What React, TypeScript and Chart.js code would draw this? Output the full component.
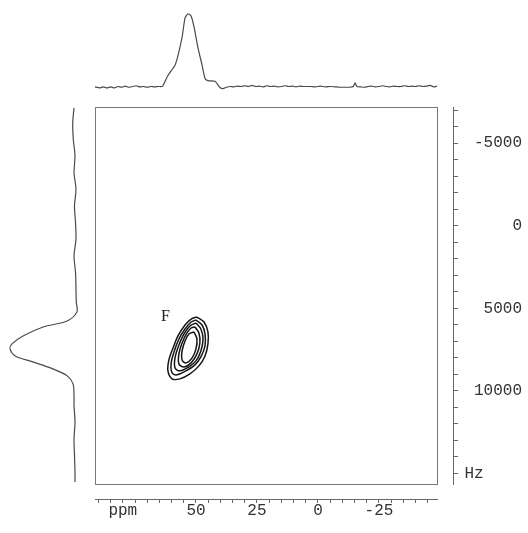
import React, { useEffect, useRef } from 'react';
import { Chart, registerables } from 'chart.js';

Chart.register(...registerables);

// ---------- DATA ----------
// Top projection (F2, ppm) : chemical shift vs intensity (0 = baseline, 100 = peak)
const topPpm = [
  91.4, 89.5, 88, 86.5, 85, 83.5, 82, 80.5, 79, 77.5, 76, 74.5, 73, 71.5, 70, 68.5, 67, 65.5, 64, 63.5,
  61.5, 58.6, 57.4, 55.7, 54.5, 53.3, 52.0, 50.8, 49.2, 47.5, 46.3, 45.1, 42.2, 40.2, 38.9,
  37.5, 36, 34.5, 33, 31.5, 30, 28.5, 27, 25.5, 24, 22.5, 21, 19.5, 18, 16.5, 15, 13.5, 12, 10.5, 9,
  7.5, 6, 4.5, 3, 1, -1, -3, -5, -7, -9, -11, -13, -14.5, -15.2, -16, -17.5, -19, -20.5, -22, -23.5,
  -25, -26.5, -28, -29.5, -31, -32.5, -34, -35.5, -37, -38.5, -40, -41.5, -43, -44.5, -46, -47.5, -48.8,
];
const topIntensity = [
  -0.5, -2, -0.5, -2, -0.5, -2, 0, -1, 0.5, -1, 0, 1, -0.5, 0, -1, 0, -0.5, 0, 0, 1.4,
  15, 29, 42, 67, 93, 99, 96, 81, 53, 29, 11, 8, 7, -1.4, -3,
  -1, 0, -0.5, 0.5, 0, 1, 0, 1.5, 0, 0.5, -0.5, 1, 0, 0.5, -0.5, 0, 1, 0, 0.5, -0.5,
  0.5, 0, 0, 0, -0.5, 0.5, -0.5, 0, -0.5, -1, -1, -1, 0, 5, 0, -0.5, -1, 0, 0.5, -0.5,
  0, 1, 0, -0.5, 0.5, 0, 0, 1, 0, 0.5, 0, 1, 0, 0.5, 1.5, -0.5, 0.5,
];

// Left projection (F1, Hz) : frequency vs intensity
const leftHz = [
  -7137, -6232, -5224, -4215, -3212, -2204, -1196, -193, 815, 1824, 2826, 3835, 4638,
  5224, 5767, 6130, 6673, 7156, 7458, 7881, 8243, 8666, 9089, 9572, 10297,
  10882, 11885, 12893, 13902, 14904, 15508,
];
const leftIntensity = [
  1.5, 3.5, 2.6, 0, 1.5, -1.5, 0.8, -0.8, -1.5, 1.5, -0.8, -1.5, -2,
  -3, 12, 49, 80, 97, 100, 92, 65, 34, 12, 3, 1.5,
  1.5, 0, 1.5, 0.8, 0, 0,
];

// Contour rings of peak F (ppm, Hz), outermost first
const ring1Ppm = [49.6, 46.7, 45.1, 45.1, 46.3, 48.8, 52.5, 56.6, 59.8, 61.5, 61.1, 59.4, 57.4, 54.5, 52.0];
const ring1Hz = [5526, 5828, 6432, 7156, 7881, 8484, 8967, 9270, 9270, 8786, 8122, 7398, 6673, 6009, 5646];
const ring2Ppm = [50.0, 47.5, 46.3, 46.3, 48.0, 50.4, 54.1, 57.8, 59.8, 60.2, 59.0, 57.0, 54.5, 52.0];
const ring2Hz = [5707, 6009, 6552, 7277, 7941, 8424, 8786, 9028, 8907, 8364, 7639, 6854, 6250, 5828];
const ring3Ppm = [50.0, 48.0, 47.1, 48.0, 50.0, 52.9, 56.6, 58.6, 58.6, 57.0, 54.9, 52.5];
const ring3Hz = [5888, 6250, 6854, 7579, 8183, 8545, 8786, 8605, 8001, 7216, 6552, 6069];
const ring4Ppm = [50.4, 48.8, 48.4, 49.6, 52.0, 54.9, 57.0, 57.0, 55.7, 53.7, 52.0];
const ring4Hz = [6130, 6492, 7096, 7760, 8303, 8545, 8364, 7760, 7096, 6492, 6190];
const ring5Ppm = [50.8, 49.6, 50.0, 51.6, 54.1, 55.7, 55.7, 54.5, 52.9];
const ring5Hz = [6432, 6854, 7458, 8001, 8303, 8122, 7579, 6975, 6552];

const peakLabel = 'F';
const peakLabelPpm = 62.5;
const peakLabelHz = 5526;

// Axis ranges, tick positions and tick labels
const ppmMin = -48.8;
const ppmMax = 91.4;
const hzMin = -7190;
const hzMax = 15636;
const ppmTickValues = [90, 85, 80, 75, 70, 65, 60, 55, 50, 45, 40, 35, 30, 25, 20, 15, 10, 5, 0, -5, -10, -15, -20, -25, -30, -35, -40, -45];
const hzTickValues = [-7000, -6000, -5000, -4000, -3000, -2000, -1000, 0, 1000, 2000, 3000, 4000, 5000, 6000, 7000, 8000, 9000, 10000, 11000, 12000, 13000, 14000, 15000];
const ppmTickLabels: Record<string, string> = { '80': 'ppm', '50': '50', '25': '25', '0': '0', '-25': '-25' };
const hzTickLabels: Record<string, string> = { '-5000': '-5000', '0': '0', '5000': '5000', '10000': '10000', '15000': 'Hz    ' };

// ---------- LAYOUT ----------
const W = 528;
const H = 533;
const AREA = { left: 95, right: 437, top: 107, bottom: 484 };
const PAD_RIGHT_GAP = 16;
const PAD_BOTTOM_GAP = 15;
const Y_AXIS_W = 69;
const X_AXIS_H = 30;

function rangeFor(frac0: number, frac100: number) {
  const R = 100 / (frac100 - frac0);
  const min = -frac0 * R;
  return { min, max: min + R };
}
// top projection: value 0 at y=86.5, 100 at y=13
const topRange = rangeFor(
  (AREA.bottom - 86.5) / (AREA.bottom - AREA.top),
  (AREA.bottom - 13) / (AREA.bottom - AREA.top)
);
// left projection (reversed): value 0 at x=75, 100 at x=10
const leftRange = rangeFor(
  1 - (75 - AREA.left) / (AREA.right - AREA.left),
  1 - (10 - AREA.left) / (AREA.right - AREA.left)
);

const LINE = '#4a4a4a';
const MONO = "'Liberation Mono', 'DejaVu Sans Mono', monospace";

function ring(ppm: number[], hz: number[]) {
  const pts = ppm.map((p, i) => ({ x: p, y: hz[i] }));
  pts.push({ x: ppm[0], y: hz[0] });
  return pts;
}

const labelPlugin = {
  id: 'peakLabel',
  afterDatasetsDraw(chart: any) {
    const ctx = chart.ctx;
    const x = chart.scales.x.getPixelForValue(peakLabelPpm);
    const y = chart.scales.y.getPixelForValue(peakLabelHz);
    ctx.save();
    ctx.font = "16px 'Liberation Serif', serif";
    ctx.fillStyle = '#222';
    ctx.textAlign = 'center';
    ctx.textBaseline = 'middle';
    ctx.fillText(peakLabel, x, y);
    ctx.restore();
  },
};

const hiddenFrameAxis = (position: string, size: number, weight = 1) => ({
  type: 'linear',
  position,
  min: 0,
  max: 1,
  weight,
  afterFit: (s: any) => {
    if (position === 'top' || position === 'bottom') s.height = size;
    else s.width = size;
  },
  border: { display: true, color: '#777', width: 1 },
  grid: { display: false, drawTicks: false },
  ticks: { display: false },
});

export default function App() {
  const ref = useRef<HTMLCanvasElement>(null);

  useEffect(() => {
    if (!ref.current) return;
    const contourStyle = {
      showLine: true,
      pointRadius: 0,
      borderColor: '#151515',
      borderWidth: 1.5,
      tension: 0.35,
      xAxisID: 'x',
      yAxisID: 'y',
    };
    const chart = new Chart(ref.current, {
      type: 'scatter',
      data: {
        datasets: [
          {
            label: 'F2 projection',
            data: topPpm.map((p, i) => ({ x: p, y: topIntensity[i] })),
            showLine: true,
            pointRadius: 0,
            borderColor: LINE,
            borderWidth: 1.2,
            tension: 0.2,
            clip: false,
            xAxisID: 'x',
            yAxisID: 'yTop',
          },
          {
            label: 'F1 projection',
            data: leftHz.map((h, i) => ({ x: leftIntensity[i], y: h })),
            showLine: true,
            pointRadius: 0,
            borderColor: LINE,
            borderWidth: 1.2,
            tension: 0.3,
            clip: false,
            xAxisID: 'xLeft',
            yAxisID: 'y',
          },
          { label: 'c1', data: ring(ring1Ppm, ring1Hz), ...contourStyle },
          { label: 'c2', data: ring(ring2Ppm, ring2Hz), ...contourStyle },
          { label: 'c3', data: ring(ring3Ppm, ring3Hz), ...contourStyle },
          { label: 'c4', data: ring(ring4Ppm, ring4Hz), ...contourStyle },
          { label: 'c5', data: ring(ring5Ppm, ring5Hz), ...contourStyle },
        ] as any,
      },
      options: {
        animation: false,
        responsive: false,
        maintainAspectRatio: false,
        events: [],
        layout: {
          autoPadding: false,
          padding: {
            left: AREA.left,
            top: AREA.top,
            right: W - AREA.right - PAD_RIGHT_GAP - Y_AXIS_W,
            bottom: H - AREA.bottom - PAD_BOTTOM_GAP - X_AXIS_H,
          },
        },
        plugins: { legend: { display: false }, tooltip: { enabled: false }, title: { display: false } },
        scales: {
          x: {
            type: 'linear',
            position: 'bottom',
            reverse: true,
            min: ppmMin,
            max: ppmMax,
            weight: 2,
            afterFit: (s: any) => { s.height = X_AXIS_H; },
            afterBuildTicks: (s: any) => { s.ticks = ppmTickValues.map((v) => ({ value: v })); },
            border: { display: true, color: '#666', width: 1 },
            grid: { display: true, drawOnChartArea: false, drawTicks: true, tickLength: 4, color: '#666' },
            ticks: {
              autoSkip: false,
              maxRotation: 0,
              padding: 0,
              color: '#333',
              font: { family: MONO, size: 16, lineHeight: 1 },
              callback: (v: any) => ppmTickLabels[String(Math.round(Number(v)))] ?? '',
            },
          },
          xPad: hiddenFrameAxis('bottom', PAD_BOTTOM_GAP),
          xTop: hiddenFrameAxis('top', 0),
          y: {
            type: 'linear',
            position: 'right',
            reverse: true,
            min: hzMin,
            max: hzMax,
            weight: 2,
            afterFit: (s: any) => { s.width = Y_AXIS_W; },
            afterBuildTicks: (s: any) => { s.ticks = hzTickValues.map((v) => ({ value: v })); },
            border: { display: true, color: '#666', width: 1 },
            grid: { display: true, drawOnChartArea: false, drawTicks: true, tickLength: 5, color: '#666' },
            ticks: {
              autoSkip: false,
              crossAlign: 'far',
              padding: 0,
              color: '#333',
              font: { family: MONO, size: 16, lineHeight: 1 },
              callback: (v: any) => hzTickLabels[String(Math.round(Number(v)))] ?? '',
            },
          },
          yPad: hiddenFrameAxis('right', PAD_RIGHT_GAP),
          yLeft: hiddenFrameAxis('left', 0),
          yTop: {
            type: 'linear',
            display: false,
            min: topRange.min,
            max: topRange.max,
          },
          xLeft: {
            type: 'linear',
            display: false,
            reverse: true,
            min: leftRange.min,
            max: leftRange.max,
          },
        } as any,
      },
      plugins: [labelPlugin],
    });
    return () => chart.destroy();
  }, []);

  return (
    <div style={{ position: 'fixed', left: 0, top: 0, width: W, height: H, background: '#fff' }}>
      <canvas ref={ref} width={W} height={H} style={{ display: 'block' }} />
    </div>
  );
}
